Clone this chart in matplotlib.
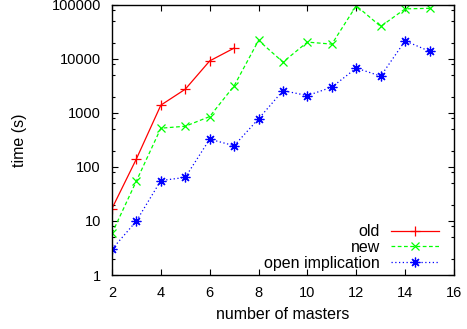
import matplotlib
matplotlib.use('Agg')
import matplotlib.pyplot as plt
from matplotlib.ticker import LogLocator, FixedFormatter, NullFormatter

plt.rcParams['font.family'] = ['Liberation Sans', 'DejaVu Sans']
plt.rcParams['font.size'] = 11.5

masters_old = [2, 3, 4, 5, 6, 7]
time_old = [17, 141, 1390, 2740, 9150, 15800]

masters_new = [2, 3, 4, 5, 6, 7, 8, 9, 10, 11, 12, 13, 14, 15]
time_new = [5.9, 55, 521, 566, 855, 3160, 21900, 8700, 20400, 18700, 96000, 39700, 84000, 86000]

masters_open = [2, 3, 4, 5, 6, 7, 8, 9, 10, 11, 12, 13, 14, 15]
time_open = [3.0, 10, 56, 64, 326, 247, 776, 2580, 2090, 2990, 6740, 4790, 21500, 13800]

ytick_vals = [1, 10, 100, 1000, 10000, 100000]
ytick_labels = ['1', '10', '100', '1000', '10000', '100000']
xtick_vals = [2, 4, 6, 8, 10, 12, 14, 16]

fig = plt.figure(figsize=(4.67, 3.29), dpi=100)
ax = fig.add_axes([0.2398, 0.164, 0.7323, 0.8215])

ax.plot(masters_old, time_old, color='#ff0000', lw=0.9, ls='-',
        marker='+', ms=7, mew=0.9, label='old')
ax.plot(masters_new, time_new, color='#00ff00', lw=0.9, ls=(0, (3, 2)),
        marker='x', ms=6, mew=0.9, label='new')
ax.plot(masters_open, time_open, color='#0000ff', lw=0.9, ls=(0, (1, 2)),
        marker=(8, 2, 0), ms=7, mew=0.9, label='open implication')

ax.set_yscale('log')
ax.set_xlim(2, 16)
ax.set_ylim(1, 100000)
ax.set_xticks(xtick_vals)
ax.set_yticks(ytick_vals)
ax.yaxis.set_major_formatter(FixedFormatter(ytick_labels))
ax.yaxis.set_minor_locator(LogLocator(base=10, subs=[2, 5, 8]))
ax.yaxis.set_minor_formatter(NullFormatter())

ax.tick_params(which='both', direction='in', top=True, right=True, width=0.8,
               labelsize=10.5)
ax.tick_params(which='major', length=4)
ax.tick_params(which='minor', length=2.5)
ax.tick_params(axis='y', which='major', pad=8)
ax.tick_params(axis='x', which='major', pad=8)
for s in ax.spines.values():
    s.set_linewidth(1.0)

ax.set_xlabel('number of masters', labelpad=5)
ax.set_ylabel('time (s)', labelpad=18)

ax.legend(loc='lower right', frameon=False, markerfirst=False,
          handlelength=3.0, handletextpad=0.7, labelspacing=0.05,
          borderaxespad=0.0, bbox_to_anchor=(0.975, -0.008))

fig.savefig('out.png', dpi=100)
